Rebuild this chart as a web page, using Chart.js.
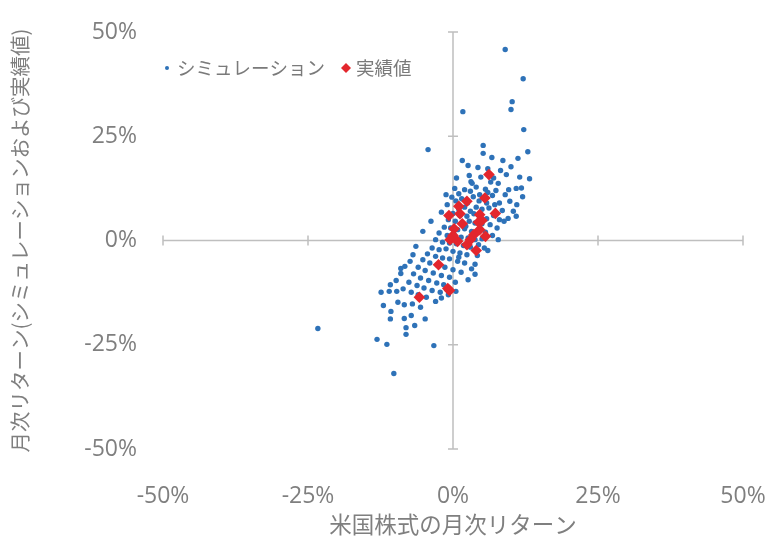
<!DOCTYPE html>
<html>
<head>
<meta charset="utf-8">
<script src="https://cdn.jsdelivr.net/npm/chart.js@4"></script>
<style>
html, body { margin: 0; padding: 0; background: #fff; }
</style>
</head>
<body>
<canvas id="chart" width="772" height="541"></canvas>
<script>
// US stock monthly return (x, %) vs simulated / actual return (y, %)
const simulation = [
    [9.0, 45.8], [12.1, 38.8], [10.2, 33.3], [10.0, 31.4], [1.7, 30.9], [12.2, 26.6],
    [-4.3, 21.8], [12.9, 21.3], [5.2, 22.8], [5.2, 20.9], [6.7, 19.9], [8.6, 19.2],
    [11.2, 19.7], [10.0, 17.7], [4.3, 17.5], [2.6, 18.0], [1.6, 19.2], [3.1, 14.1],
    [3.3, 13.7], [7.8, 13.7], [10.9, 12.5], [9.6, 12.2], [9.0, 11.0], [5.6, 12.3],
    [-1.2, 11.0], [0.3, 12.5], [2.0, 12.2], [9.5, 5.3], [10.9, 5.8], [6.0, -2.4],
    [3.8, -5.7], [3.8, -8.1], [13.2, 14.8], [11.5, 15.2], [7.0, 15.0], [8.2, 16.8],
    [6.0, 17.2], [12.0, 10.5], [11.0, 8.6], [8.0, 9.0],
    [0.5, 9.5], [1.5, 10.0], [2.5, 9.0], [3.5, 10.5], [4.5, 9.5], [5.8, 9.0],
    [6.8, 10.8], [7.4, 12.0], [1.0, 7.5], [2.0, 8.0], [3.0, 7.0], [4.0, 8.0],
    [5.0, 7.5], [6.2, 7.8], [7.2, 8.6], [8.5, 7.2], [0.0, 6.5], [1.2, 6.0],
    [2.4, 5.8], [3.6, 6.4], [4.6, 6.0], [5.8, 5.2], [7.0, 6.0], [-0.8, 5.0],
    [0.4, 4.6], [1.6, 4.0], [2.8, 4.6], [3.8, 4.2], [5.0, 4.0], [6.4, 3.8],
    [-1.5, 3.2], [-0.4, 3.0], [0.8, 2.6], [2.0, 2.8], [3.2, 2.2], [4.4, 2.6],
    [5.6, 2.0], [-2.4, 1.8], [-1.0, 1.2], [0.2, 1.4], [1.4, 0.8], [2.6, 0.6],
    [3.8, 0.2], [5.0, 0.4], [-3.0, 0.2], [-1.8, -0.4], [-0.6, -0.6], [0.6, -0.8],
    [1.8, -1.2], [3.0, -1.6], [4.4, -1.0], [-3.6, -1.8], [-2.4, -2.2], [-1.2, -2.0],
    [0.0, -2.6], [1.2, -3.0], [2.4, -3.4], [-4.4, -3.2], [-3.0, -3.8], [-1.8, -4.2],
    [-0.6, -4.4], [0.8, -5.0], [2.0, -5.4], [-5.2, -4.6], [-4.0, -5.4], [-2.6, -6.0],
    [-1.4, -6.4], [0.0, -7.0], [-6.0, -6.4], [-4.8, -7.2], [-3.4, -7.8], [-2.0, -8.4],
    [-0.6, -8.8], [-6.8, -8.0], [-5.6, -9.0], [-4.2, -9.6], [-2.8, -10.2], [-1.6, -10.6],
    [-7.6, -10.0], [-6.2, -10.8], [-5.0, -11.4], [-3.6, -12.0], [-2.2, -12.4], [-8.6, -11.6],
    [-7.2, -12.4], [-6.0, -13.0], [-4.6, -13.6], [-12.4, -12.4], [-11.0, -12.2], [-9.7, -12.2],
    [-9.5, -14.8], [-8.4, -15.4], [-7.0, -15.2], [-5.6, -16.0], [-10.7, -17.0], [-10.8, -18.8],
    [-8.4, -18.7], [-7.2, -18.0], [-8.1, -20.9], [-8.1, -22.5], [-13.1, -23.7], [-11.4, -24.9],
    [-3.3, -25.2], [-10.2, -31.9], [-23.3, -21.1], [-6.4, -1.4], [-6.9, -3.4], [-5.2, 2.2],
    [-8.3, -6.2], [-9.0, -7.9], [-9.0, -6.7], [-7.4, -5.0], [-3.8, 4.6], [-2.0, 6.8],
    [-1.0, 8.6], [4.0, 12.8], [2.8, 15.6], [0.6, 15.0], [6.5, 14.0], [9.8, 9.4],
    [10.4, 7.0], [8.8, 4.6], [7.6, 3.0], [6.8, 1.2], [7.8, 0.2], [5.4, -1.8],
    [4.2, -3.6], [3.2, -6.8], [1.4, -7.6], [2.6, -9.4], [0.4, -10.0], [-0.8, -13.0],
    [-3.0, -14.6], [-9.8, -9.6], [-10.8, -10.6], [8.0, 5.0], [6.0, 11.5], [3.0, 11.8],
    [1.0, 11.2], [-0.2, 10.4], [4.8, 15.2], [9.2, 15.8], [11.8, 12.6], [4.6, 11.0],
    [2.2, 3.4], [1.0, -4.0], [-2.0, -13.8], [-12.0, -15.6], [-4.8, -18.8], [-6.6, -20.4],
    [0.5, -12.2]
];

const actual = [
    [6.2, 15.8], [2.4, 9.4], [5.5, 10.2], [-0.7, 6.0], [1.2, 6.4], [4.6, 6.2],
    [7.3, 6.5], [0.2, 2.8], [0.0, 1.2], [-0.5, 0.2], [0.8, -0.2], [4.4, 4.4],
    [4.6, 2.6], [3.6, 1.4], [5.6, 1.0], [4.0, -2.4], [2.4, -1.0], [1.6, 4.0],
    [-2.5, -5.8], [-0.9, -11.5], [-0.6, -12.0], [-5.8, -13.6], [1.0, 8.2], [3.0, 0.2],
    [5.0, 4.8]
];

const seriesNames = ['シミュレーション', '実績値'];
const axisTicks = [-50, -25, 0, 25, 50];
const xTitle = '米国株式の月次リターン';
const yTitle = '月次リターン(シミュレーションおよび実績値)';

const toPoints = arr => arr.map(p => ({ x: p[0], y: p[1] }));

// axis cross through (0, 0) with small tick marks
const crossAxes = {
    id: 'crossAxes',
    beforeDatasetsDraw(chart) {
        const { ctx, chartArea: a, scales: { x, y } } = chart;
        const x0 = x.getPixelForValue(0);
        const y0 = y.getPixelForValue(0);
        ctx.save();
        ctx.strokeStyle = '#bfbfbf';
        ctx.lineWidth = 1.5;
        ctx.beginPath();
        ctx.moveTo(a.left, y0);
        ctx.lineTo(a.right, y0);
        ctx.moveTo(x0, a.top);
        ctx.lineTo(x0, a.bottom);
        x.ticks.forEach(t => {
            const px = x.getPixelForValue(t.value);
            ctx.moveTo(px, y0 - 5);
            ctx.lineTo(px, y0 + 5);
        });
        y.ticks.forEach(t => {
            const py = y.getPixelForValue(t.value);
            ctx.moveTo(x0 - 5, py);
            ctx.lineTo(x0 + 5, py);
        });
        ctx.stroke();
        ctx.restore();
    }
};

// legend drawn inside the plot, top left
const innerLegend = {
    id: 'innerLegend',
    afterDatasetsDraw(chart) {
        const { ctx, chartArea: a } = chart;
        const y = a.top + 36;
        let x = a.left + 4;
        ctx.save();
        ctx.font = "18.5px 'Noto Sans CJK JP', sans-serif";
        ctx.textBaseline = 'middle';
        chart.data.datasets.forEach(ds => {
            const r = ds.legendSize;
            ctx.fillStyle = ds.backgroundColor;
            ctx.beginPath();
            if (ds.pointStyle === 'rectRot') {
                ctx.moveTo(x, y - r);
                ctx.lineTo(x + r, y);
                ctx.lineTo(x, y + r);
                ctx.lineTo(x - r, y);
                ctx.closePath();
            } else {
                ctx.arc(x, y, r, 0, Math.PI * 2);
            }
            ctx.fill();
            ctx.fillStyle = '#7a7a7a';
            ctx.fillText(ds.label, x + 10, y);
            x += 10 + ctx.measureText(ds.label).width + 21;
        });
        ctx.restore();
    }
};

const tickFont = { family: "'Open Sans', 'Noto Sans CJK JP', sans-serif", size: 23 };
const grey = '#7f7f7f';

new Chart(document.getElementById('chart'), {
    type: 'scatter',
    data: {
        datasets: [{
            label: seriesNames[0],
            data: toPoints(simulation),
            backgroundColor: '#2e72b8',
            borderWidth: 0,
            pointRadius: 2.7,
            pointStyle: 'circle',
            legendSize: 2,
            order: 1
        }, {
            label: seriesNames[1],
            data: toPoints(actual),
            backgroundColor: '#e3262d',
            borderWidth: 0,
            pointRadius: 5.8,
            pointStyle: 'rectRot',
            legendSize: 5,
            order: 0
        }]
    },
    options: {
        responsive: false,
        animation: false,
        layout: { padding: { top: 32, right: 29, bottom: 0, left: 0 } },
        plugins: {
            tooltip: { enabled: false },
            legend: { display: false }
        },
        scales: {
            x: {
                type: 'linear',
                min: -50,
                max: 50,
                afterBuildTicks: scale => { scale.ticks = axisTicks.map(v => ({ value: v })); },
                afterFit: scale => {
                    scale.height = 92;
                    scale.paddingLeft = 0;
                    scale.paddingRight = 0;
                },
                grid: { display: false },
                border: { display: false },
                ticks: { padding: 26, maxRotation: 0, color: grey, font: tickFont, callback: v => v + '%' },
                title: {
                    display: true, text: xTitle, color: grey,
                    font: { family: "'Noto Sans CJK JP', sans-serif", size: 22.5 },
                    padding: { top: 4, bottom: 3 }
                }
            },
            y: {
                type: 'linear',
                min: -50,
                max: 50,
                afterBuildTicks: scale => { scale.ticks = axisTicks.map(v => ({ value: v })); },
                afterFit: scale => {
                    scale.width = 163;
                    scale.paddingTop = 0;
                    scale.paddingBottom = 0;
                },
                grid: { display: false },
                border: { display: false },
                ticks: { padding: 18, color: grey, font: tickFont, callback: v => v + '%' },
                title: {
                    display: true, text: yTitle, color: grey,
                    font: { family: "'Noto Sans CJK JP', sans-serif", size: 20.5 },
                    padding: { top: 8, bottom: 0 }
                }
            }
        }
    },
    plugins: [crossAxes, innerLegend]
});
</script>
</body>
</html>
